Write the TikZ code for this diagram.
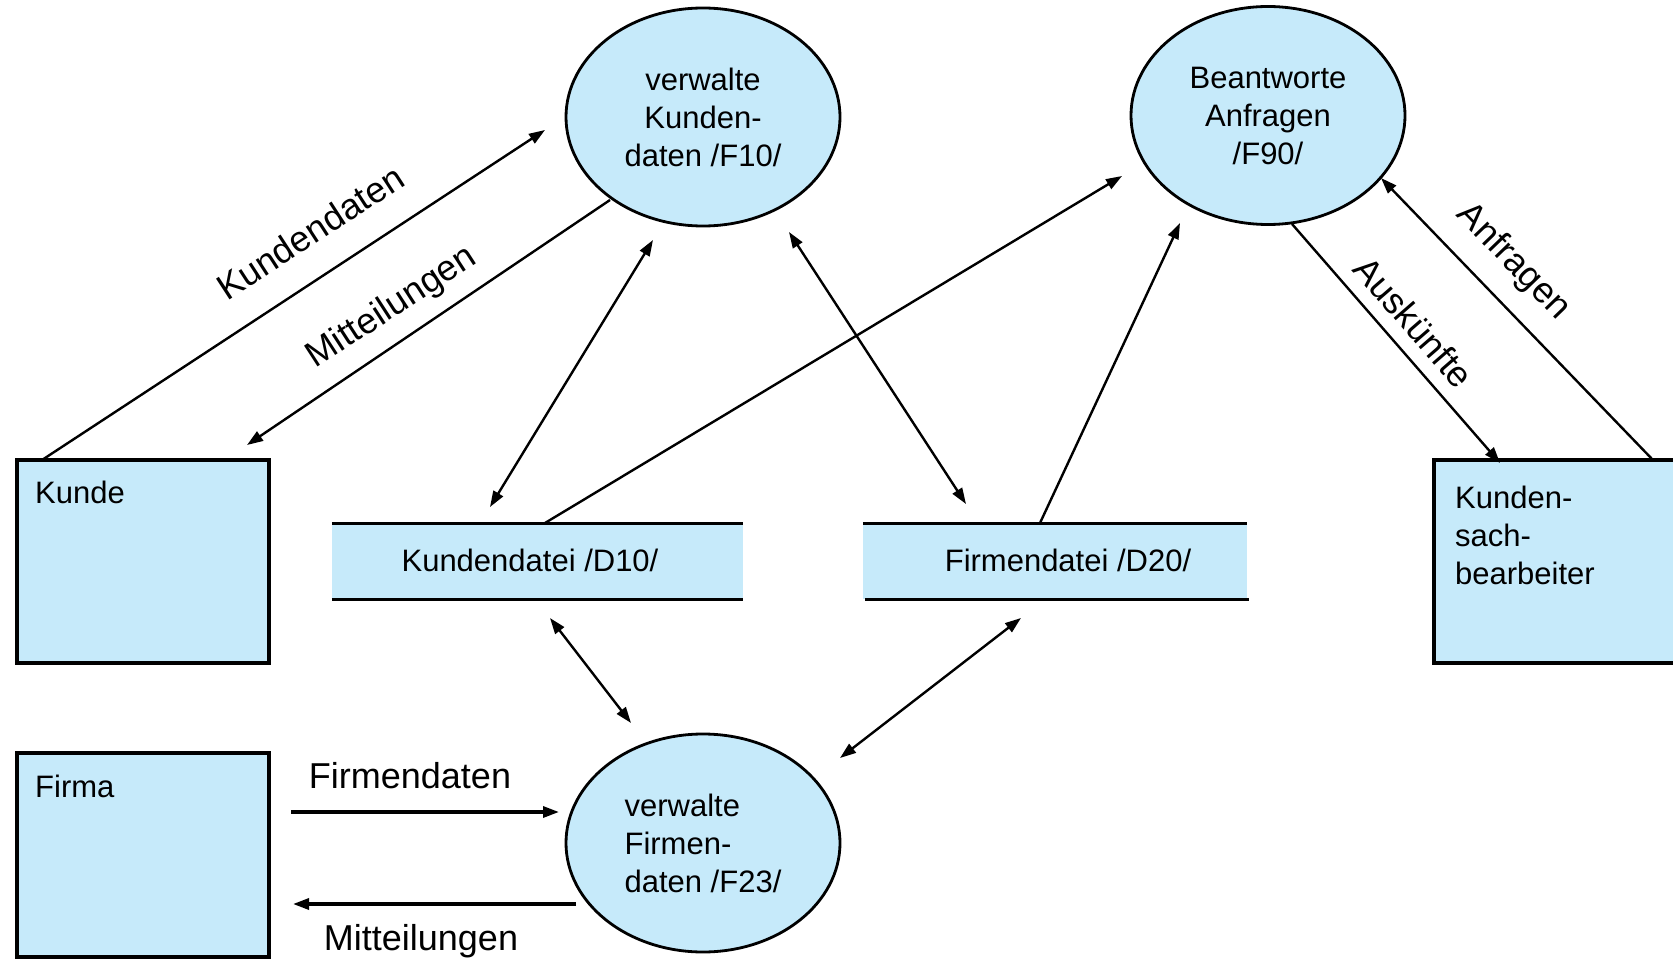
\documentclass[tikz,border=0pt]{standalone}
\usepackage{fontspec}
\setmainfont{Liberation Sans}
\usetikzlibrary{shapes.geometric,arrows.meta}
\definecolor{fillblue}{RGB}{198,234,250}
\begin{document}
\begin{tikzpicture}[x=1pt,y=1pt,
  proc/.style={ellipse,draw,line width=2.8pt,fill=fillblue,minimum width=274pt,minimum height=218pt,inner sep=0pt,font=\fontsize{31}{38}\selectfont},
  ext/.style={rectangle,draw,line width=3.2pt,fill=fillblue,inner sep=0pt},
  store/.style={rectangle,fill=fillblue,inner sep=0pt},
  storeline/.style={line width=3.2pt},
  txt/.style={font=\fontsize{31}{38}\selectfont,inner sep=0pt,align=left},
  lbl/.style={font=\fontsize{36}{42}\selectfont,inner sep=0pt},
  tip/.tip={Triangle[length=16pt,width=11pt]},
  flow/.style={line width=2.4pt,-tip},
  dflow/.style={line width=2.4pt,tip-tip},
  flowthick/.style={line width=3.2pt,-tip}
]
\clip (0,0) rectangle (1673,-960);
\fill[white] (0,0) rectangle (1673,-960);

% processes
\node[proc,align=center] (f10) at (703,-117) {verwalte\\Kunden-\\daten /F10/};
\node[proc,align=center] (f90) at (1268,-115.5) {Beantworte\\Anfragen\\/F90/};
\node[proc,align=left] (f23) at (703,-843) {verwalte\\Firmen-\\daten /F23/};

% externals
\node[ext,minimum width=252pt,minimum height=203pt] (ku) at (143,-561.5) {};
\node[txt,anchor=west] (kut) at (35,-492) {Kunde};
\node[ext,minimum width=252pt,minimum height=204pt] (fi) at (143,-855) {};
\node[txt,anchor=west] (fit) at (35,-786) {Firma};
\node[ext,minimum width=270pt,minimum height=203pt] (ksb) at (1569,-561.5) {};
\node[txt,anchor=north west] (ksbt) at (1455,-486) {Kunden-\\sach-\\bearbeiter};

% data stores
\node[store,minimum width=411pt,minimum height=75pt] (kd) at (537.5,-561.5) {};
\draw[storeline] (kd.north west) -- (kd.north east);
\draw[storeline] (kd.south west) -- (kd.south east);
\node[txt] (kdt) at (530,-560) {Kundendatei /D10/};
\node[store,minimum width=384pt,minimum height=75pt] (fd) at (1055,-561.5) {};
\draw[storeline] (fd.north west) -- (fd.north east);
\draw[storeline] ([xshift=2pt]fd.south west) -- ([xshift=2pt]fd.south east);
\node[txt] (fdt) at (1068,-560) {Firmendatei /D20/};

% connector end points
\coordinate (ku1) at (42,-460);
\coordinate (f10a) at (545,-130);
\coordinate (f10b) at (610,-200);
\coordinate (ku2) at (247,-445);
\coordinate (kd1) at (490,-507);
\coordinate (f10c) at (653,-240);
\coordinate (f10d) at (789,-232);
\coordinate (fd1) at (966,-504);
\coordinate (kd2) at (545,-523);
\coordinate (f90a) at (1122,-176);
\coordinate (fd2) at (1040,-523);
\coordinate (f90b) at (1180,-223);
\coordinate (f90c) at (1292,-224);
\coordinate (ksb1) at (1500,-463);
\coordinate (ksb2) at (1652,-459);
\coordinate (f90d) at (1381,-178);
\coordinate (kd3) at (550,-618);
\coordinate (f23a) at (631,-723);
\coordinate (fd3) at (1021,-618);
\coordinate (f23b) at (840,-758);
\coordinate (fi1) at (291,-812);
\coordinate (f23c) at (559,-812);
\coordinate (f23d) at (576,-904);
\coordinate (fi2) at (293,-904);

% connectors
\draw[flow] (ku1) -- (f10a);
\draw[flow] (f10b) -- (ku2);
\draw[dflow] (kd1) -- (f10c);
\draw[dflow] (f10d) -- (fd1);
\draw[flow] (kd2) -- (f90a);
\draw[flow] (fd2) -- (f90b);
\draw[flow] (f90c) -- (ksb1);
\draw[flow] (ksb2) -- (f90d);
\draw[dflow] (kd3) -- (f23a);
\draw[dflow] (fd3) -- (f23b);
\draw[flowthick] (fi1) -- (f23c);
\draw[flowthick] (f23d) -- (fi2);

% labels
\node[lbl,rotate=33] (l1) at (310,-232) {Kundendaten};
\node[lbl,rotate=33] (l2) at (392,-308) {Mitteilungen};
\node[lbl,rotate=-46] (l3) at (1513,-262) {Anfragen};
\node[lbl,rotate=-49] (l4) at (1414,-322) {Auskünfte};
\node[lbl] (l5) at (410,-776) {Firmendaten};
\node[lbl] (l6) at (421,-941) {Mitteilungen};
\end{tikzpicture}
\end{document}
